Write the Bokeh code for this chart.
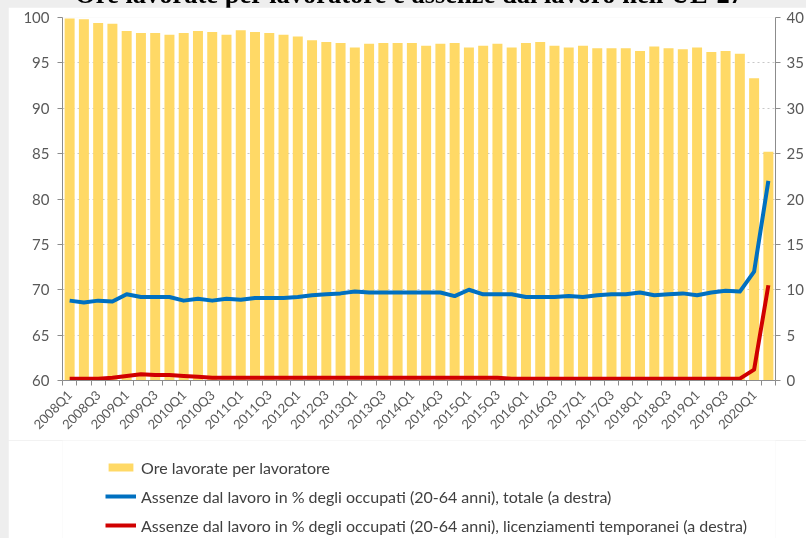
from math import pi
from bokeh.plotting import figure
from bokeh.models import (ColumnDataSource, Range1d, LinearAxis, FixedTicker, Legend,
                          LegendItem, Div, GlobalInlineStyleSheet)
from bokeh.layouts import column
from bokeh.embed import file_html
from bokeh.resources import INLINE

TITLE = "Ore lavorate per lavoratore e assenze dal lavoro nell'UE-27"

quarters = ["2008Q1", "2008Q2", "2008Q3", "2008Q4", "2009Q1", "2009Q2", "2009Q3", "2009Q4",
            "2010Q1", "2010Q2", "2010Q3", "2010Q4", "2011Q1", "2011Q2", "2011Q3", "2011Q4",
            "2012Q1", "2012Q2", "2012Q3", "2012Q4", "2013Q1", "2013Q2", "2013Q3", "2013Q4",
            "2014Q1", "2014Q2", "2014Q3", "2014Q4", "2015Q1", "2015Q2", "2015Q3", "2015Q4",
            "2016Q1", "2016Q2", "2016Q3", "2016Q4", "2017Q1", "2017Q2", "2017Q3", "2017Q4",
            "2018Q1", "2018Q2", "2018Q3", "2018Q4", "2019Q1", "2019Q2", "2019Q3", "2019Q4",
            "2020Q1", "2020Q2"]

ore_lavorate = [99.9, 99.8, 99.4, 99.3, 98.5, 98.3, 98.3, 98.1, 98.3, 98.5,
                98.4, 98.1, 98.6, 98.4, 98.3, 98.1, 97.9, 97.5, 97.3, 97.2,
                96.7, 97.1, 97.2, 97.2, 97.2, 96.9, 97.1, 97.2, 96.7, 96.9,
                97.1, 96.7, 97.2, 97.3, 96.9, 96.7, 96.9, 96.6, 96.6, 96.6,
                96.3, 96.8, 96.6, 96.5, 96.7, 96.2, 96.3, 96.0, 93.3, 85.2]

assenze_totale = [8.8, 8.6, 8.8, 8.7, 9.5, 9.2, 9.2, 9.2, 8.8, 9.0,
                  8.8, 9.0, 8.9, 9.1, 9.1, 9.1, 9.2, 9.4, 9.5, 9.6,
                  9.8, 9.7, 9.7, 9.7, 9.7, 9.7, 9.7, 9.3, 10.0, 9.5,
                  9.5, 9.5, 9.2, 9.2, 9.2, 9.3, 9.2, 9.4, 9.5, 9.5,
                  9.7, 9.4, 9.5, 9.6, 9.4, 9.7, 9.9, 9.8, 12.0, 22.0]

assenze_licenz = [0.2, 0.2, 0.2, 0.3, 0.5, 0.7, 0.6, 0.6, 0.5, 0.4,
                  0.3, 0.3, 0.3, 0.3, 0.3, 0.3, 0.3, 0.3, 0.3, 0.3,
                  0.3, 0.3, 0.3, 0.3, 0.3, 0.3, 0.3, 0.3, 0.3, 0.3,
                  0.3, 0.2, 0.2, 0.2, 0.2, 0.2, 0.2, 0.2, 0.2, 0.2,
                  0.2, 0.2, 0.2, 0.2, 0.2, 0.2, 0.2, 0.2, 1.2, 10.5]

left_ticks = [60, 65, 70, 75, 80, 85, 90, 95, 100]
right_ticks = [0, 5, 10, 15, 20, 25, 30, 35, 40]

legend_labels = ["Ore lavorate per lavoratore",
                 "Assenze dal lavoro in % degli occupati (20-64 anni), totale (a destra)",
                 "Assenze dal lavoro in % degli occupati (20-64 anni), licenziamenti temporanei (a destra)"]

FONT = "Lato"
TICK_COLOR = "#595959"
AXIS_COLOR = "#8c8c8c"
BAR_COLOR = "#FFD966"
BLUE = "#0070C0"
RED = "#D00000"

xs = list(range(len(quarters)))
src = ColumnDataSource(dict(x=xs, ore=ore_lavorate, tot=assenze_totale, lic=assenze_licenz))

# ---------------- main chart ----------------
p = figure(width=798, height=433, x_range=Range1d(-0.5, len(quarters) - 0.5),
           y_range=Range1d(60, 100), output_backend="svg", toolbar_location=None,
           min_border_left=54, min_border_right=30, min_border_top=10, min_border_bottom=59)
p.extra_y_ranges = {"right": Range1d(0, 40)}
p.outline_line_color = None
p.background_fill_color = "white"
p.border_fill_color = "white"

p.vbar(x="x", top="ore", bottom=60, width=0.7, fill_color=BAR_COLOR, line_color=None, source=src)
p.line(x="x", y="tot", y_range_name="right", line_color=BLUE, line_width=4,
       line_join="round", source=src)
p.line(x="x", y="lic", y_range_name="right", line_color=RED, line_width=4,
       line_join="round", source=src)

p.xgrid.visible = False
p.ygrid.ticker = FixedTicker(ticks=left_ticks)
p.ygrid.grid_line_color = "#c8c8c8"
p.ygrid.grid_line_dash = "2 3"

ya = p.yaxis[0]
ya.ticker = FixedTicker(ticks=left_ticks)
ya.axis_line_color = AXIS_COLOR
ya.major_tick_line_color = AXIS_COLOR
ya.major_tick_in = 0
ya.major_tick_out = 5
ya.minor_tick_line_color = None
ya.major_label_standoff = 8
ya.major_label_text_font = FONT
ya.major_label_text_font_size = "15px"
ya.major_label_text_color = TICK_COLOR

ra = LinearAxis(y_range_name="right", ticker=FixedTicker(ticks=right_ticks))
ra.axis_line_color = AXIS_COLOR
ra.major_tick_line_color = AXIS_COLOR
ra.major_tick_in = 0
ra.major_tick_out = 5
ra.minor_tick_line_color = None
ra.major_label_standoff = 6
ra.major_label_text_font = FONT
ra.major_label_text_font_size = "15px"
ra.major_label_text_color = TICK_COLOR
p.add_layout(ra, "right")

xa = p.xaxis[0]
xa.ticker = FixedTicker(ticks=xs[::2], minor_ticks=[i - 0.5 for i in range(len(quarters) + 1)])
xa.major_label_overrides = {i: quarters[i] for i in xs[::2]}
xa.major_tick_in = 0
xa.major_tick_out = 0
xa.minor_tick_in = 0
xa.minor_tick_out = 5
xa.minor_tick_line_color = AXIS_COLOR
xa.axis_line_color = AXIS_COLOR
xa.major_label_orientation = pi / 4
xa.major_label_standoff = 7
xa.major_label_text_font = FONT
xa.major_label_text_font_size = "13px"
xa.major_label_text_color = TICK_COLOR

# ---------------- legend strip ----------------
lf = figure(width=798, height=98, x_range=Range1d(0, 1), y_range=Range1d(0, 1),
            x_axis_type=None, y_axis_type=None,
            output_backend="svg", toolbar_location=None,
            min_border_left=0, min_border_right=0, min_border_top=0, min_border_bottom=0)
lf.grid.visible = False
lf.outline_line_color = None
lf.background_fill_color = "white"
lf.border_fill_color = "white"
lb = lf.vbar(x=[-10], top=[-10], bottom=-11, width=0.5, fill_color=BAR_COLOR, line_color=None)
ll1 = lf.line(x=[-10, -9], y=[-10, -10], line_color=BLUE, line_width=4)
ll2 = lf.line(x=[-10, -9], y=[-10, -10], line_color=RED, line_width=4)

legend = Legend(items=[LegendItem(label=legend_labels[0], renderers=[lb]),
                       LegendItem(label=legend_labels[1], renderers=[ll1]),
                       LegendItem(label=legend_labels[2], renderers=[ll2])],
                location=(43, 3), orientation="vertical",
                border_line_color=None, background_fill_alpha=0,
                padding=0, margin=0, spacing=9, glyph_width=31, glyph_height=10,
                label_height=20, label_standoff=5,
                label_text_font=FONT, label_text_font_size="16px",
                label_text_color="#404040")
lf.add_layout(legend, "center")

title_div = Div(text=TITLE, width=788, height=30,
                styles={"position": "fixed", "top": "-26px", "left": "10px",
                        "font-family": "'Liberation Serif'", "font-weight": "bold",
                        "font-size": "26.5px", "line-height": "30px", "text-align": "center",
                        "white-space": "nowrap", "color": "#000000"})

layout = column(title_div, p, lf)
layout.stylesheets = [GlobalInlineStyleSheet(css=(
    "html { margin: 0 !important; padding: 0 !important; background-color: #eeeeee !important; }"
    " body { margin: 0 !important; padding: 7px 0 0 8px !important;"
    " background-color: #eeeeee !important; box-sizing: border-box; }"))]

open("out.html", "w").write(file_html(layout, INLINE))
